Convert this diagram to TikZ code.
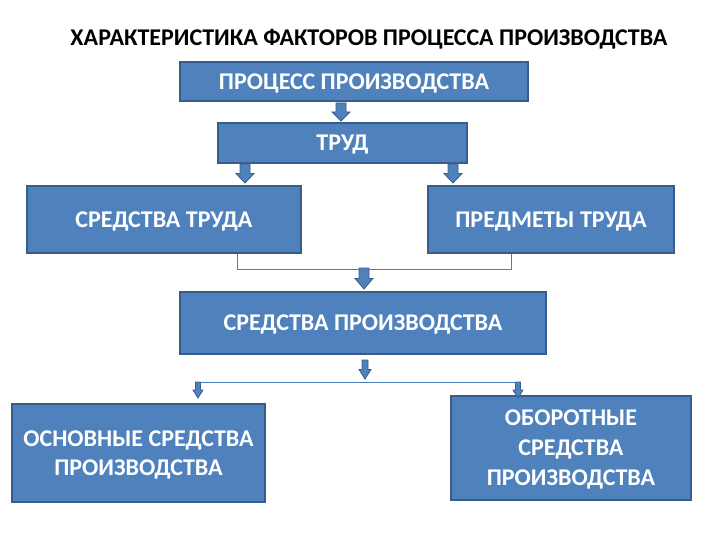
\documentclass[tikz,border=0pt]{standalone}
\usepackage{fontspec}
\setmainfont{Carlito}
\definecolor{boxfill}{HTML}{4F81BD}
\definecolor{boxline}{HTML}{385D8A}
\definecolor{conn}{HTML}{4A7EBB}
\begin{document}
\begin{tikzpicture}[x=1pt,y=-1pt,
  box/.style={draw=boxline,line width=1.5pt,fill=boxfill,text=white,font=\bfseries\fontsize{24}{29}\selectfont,align=center,inner sep=0pt,text depth=0pt},
  conline/.style={draw=conn,line width=1pt},
  barrow/.style={fill=boxfill,draw=boxline,line width=0.8pt}]
\useasboundingbox (0,0) rectangle (720,540);
\newcommand\blockarrow[5]{% x, ytop, ybot, shaft half, head half
  \pgfmathsetmacro\hy{#3-0.5*(#3-#2)}
  \draw[barrow] (#1-#4,#2) -- (#1+#4,#2) -- (#1+#4,\hy) -- (#1+#5,\hy) -- (#1,#3) -- (#1-#5,\hy) -- (#1-#4,\hy) -- cycle;}
\node[font=\bfseries\fontsize{24}{28}\selectfont,text depth=0pt] (title) at (369,37) {ХАРАКТЕРИСТИКА ФАКТОРОВ ПРОЦЕССА ПРОИЗВОДСТВА};
\node[box,minimum width=348pt,minimum height=39pt] (pp) at (354,81.5) {ПРОЦЕСС ПРОИЗВОДСТВА};
\node[box,minimum width=249pt,minimum height=40pt] (trud) at (342.5,143) {ТРУД};
\node[box,minimum width=274pt,minimum height=67pt] (st) at (164,219.5) {СРЕДСТВА ТРУДА};
\node[box,minimum width=246pt,minimum height=67pt] (pt) at (551,219.5) {ПРЕДМЕТЫ ТРУДА};
\node[box,minimum width=366pt,minimum height=62pt] (sp) at (363,323) {СРЕДСТВА ПРОИЗВОДСТВА};
\node[box,minimum width=253pt,minimum height=98pt] (os) at (138.5,453) {ОСНОВНЫЕ СРЕДСТВА\\ПРОИЗВОДСТВА};
\node[box,minimum width=240pt,minimum height=104pt,font=\bfseries\fontsize{24}{30}\selectfont] (ob) at (571,448) {ОБОРОТНЫЕ\\СРЕДСТВА\\ПРОИЗВОДСТВА};
% block arrows
\blockarrow{341}{103}{121}{5}{9}
\blockarrow{245}{164}{183}{5}{9}
\blockarrow{453}{164}{183}{5}{9}
\blockarrow{364}{268}{289}{5}{9}
\blockarrow{365}{360}{379}{3}{6}
\blockarrow{198}{382}{398}{2.5}{5}
\blockarrow{518}{382}{398}{2.5}{5}
% connectors
\coordinate (c1) at (237,269);
\coordinate (c2) at (511,269);
\draw[conline] (st.south -| c1) -- (c1) -- (c2) -- (pt.south -| c2);
\coordinate (h1) at (200,382);
\coordinate (h2) at (518,382);
\draw[conline] (h1) -- (h2);
\end{tikzpicture}
\end{document}
